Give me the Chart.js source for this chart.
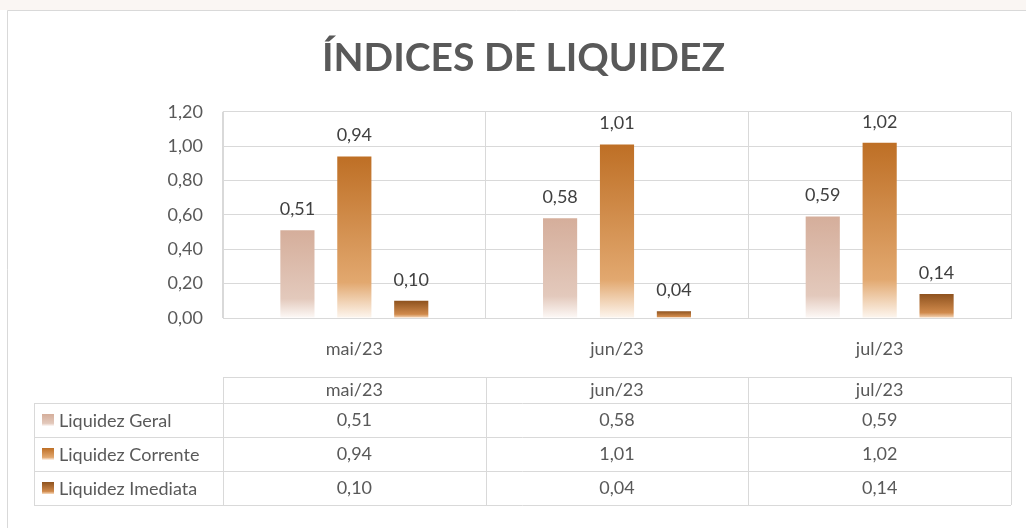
<!DOCTYPE html>
<html>
<head>
<meta charset="utf-8">
<script src="https://cdn.jsdelivr.net/npm/chart.js@4"></script>
<style>
  html, body { margin: 0; padding: 0; background: #fff; }
  canvas { display: block; }
</style>
</head>
<body>
<canvas id="myChart" width="1026" height="528"></canvas>
<script>
const categories = ['mai/23', 'jun/23', 'jul/23'];
const seriesNames = ['Liquidez Geral', 'Liquidez Corrente', 'Liquidez Imediata'];
const liquidezGeral = [0.51, 0.58, 0.59];
const liquidezCorrente = [0.94, 1.01, 1.02];
const liquidezImediata = [0.10, 0.04, 0.14];
const yMin = 0;
const yMax = 1.2;
const yStep = 0.2;

const FONT = 'Lato, "Open Sans", sans-serif';
const TEXT = '#595959';
const GRID = '#d9d9d9';

// cores do degradê (topo -> meio -> base)
const gradStops = [
    ['#d5ae9b', '#e3c9bc', '#fdf9f7'],
    ['#be6f25', '#e2a86f', '#fdf6ef'],
    ['#8e521e', '#d08a4c', '#f8dcc0']
];

const fmt = v => v.toFixed(2).replace('.', ',');

function makeGradient(c, top, bottom, stops) {
    const g = c.createLinearGradient(0, top, 0, bottom);
    g.addColorStop(0, stops[0]);
    g.addColorStop(0.78, stops[1]);
    g.addColorStop(1, stops[2]);
    return g;
}

function barColor(i) {
    return function (context) {
        const chart = context.chart;
        if (!chart.chartArea || context.raw === undefined) return gradStops[i][0];
        const y = chart.scales.y;
        return makeGradient(chart.ctx, y.getPixelForValue(context.raw), y.getPixelForValue(0), gradStops[i]);
    };
}

// moldura da área do gráfico
const framePlugin = {
    id: 'frame',
    beforeDraw(chart) {
        const c = chart.ctx;
        c.save();
        c.fillStyle = '#faf6f3';
        c.fillRect(0, 0, chart.width, 10);
        c.fillStyle = '#ffffff';
        c.fillRect(7, 10, chart.width - 7, chart.height - 10);
        c.strokeStyle = GRID;
        c.lineWidth = 1;
        c.beginPath();
        c.moveTo(7.5, chart.height);
        c.lineTo(7.5, 10.5);
        c.lineTo(chart.width, 10.5);
        c.stroke();
        c.restore();
    }
};

// rótulos de dados acima das barras
const valueLabels = {
    id: 'valueLabels',
    afterDatasetsDraw(chart) {
        const c = chart.ctx;
        c.save();
        c.font = '18px ' + FONT;
        c.fillStyle = '#404040';
        c.textAlign = 'center';
        c.textBaseline = 'bottom';
        chart.data.datasets.forEach((ds, i) => {
            chart.getDatasetMeta(i).data.forEach((bar, j) => {
                c.fillText(fmt(ds.data[j]), bar.x, bar.y - 12);
            });
        });
        c.restore();
    }
};

// tabela de dados abaixo do eixo
const dataTable = {
    id: 'dataTable',
    afterDraw(chart) {
        const c = chart.ctx;
        const x = chart.scales.x;
        const left = chart.chartArea.left;
        const right = chart.chartArea.right;
        const legendLeft = 34;
        const headTop = 377;
        const rowTops = [403, 437, 471, 505];
        const colW = (right - left) / categories.length;

        c.save();
        c.strokeStyle = GRID;
        c.lineWidth = 1;
        c.beginPath();
        c.moveTo(left, headTop + 0.5);
        c.lineTo(right, headTop + 0.5);
        rowTops.forEach(t => {
            c.moveTo(legendLeft, t + 0.5);
            c.lineTo(right, t + 0.5);
        });
        c.moveTo(legendLeft + 0.5, rowTops[0]);
        c.lineTo(legendLeft + 0.5, rowTops[3]);
        for (let k = 0; k <= categories.length; k++) {
            const px = Math.round(left + k * colW) + 0.5;
            c.moveTo(px, headTop);
            c.lineTo(px, rowTops[3]);
        }
        c.stroke();

        c.font = '18px ' + FONT;
        c.fillStyle = TEXT;
        c.textBaseline = 'middle';
        c.textAlign = 'center';
        categories.forEach((cat, j) => {
            c.fillText(cat, x.getPixelForValue(j), (headTop + rowTops[0]) / 2);
        });
        chart.data.datasets.forEach((ds, i) => {
            const cy = (rowTops[i] + rowTops[i + 1]) / 2;
            c.textAlign = 'center';
            ds.data.forEach((v, j) => {
                c.fillText(fmt(v), x.getPixelForValue(j), cy);
            });
            // chave da legenda
            c.fillStyle = makeGradient(c, cy - 6, cy + 6, gradStops[i]);
            c.fillRect(42, cy - 6, 12, 12);
            c.fillStyle = TEXT;
            c.textAlign = 'left';
            c.fillText(ds.label, 59, cy + 1);
        });
        c.restore();
    }
};

const ctx = document.getElementById('myChart');

new Chart(ctx, {
    type: 'bar',
    data: {
        labels: categories,
        datasets: [
            { label: seriesNames[0], data: liquidezGeral, backgroundColor: barColor(0) },
            { label: seriesNames[1], data: liquidezCorrente, backgroundColor: barColor(1) },
            { label: seriesNames[2], data: liquidezImediata, backgroundColor: barColor(2) }
        ]
    },
    options: {
        responsive: false,
        animation: false,
        categoryPercentage: 0.65,
        barPercentage: 0.6,
        layout: { padding: { left: 36, right: 15, top: 0, bottom: 0 } },
        plugins: {
            legend: { display: false },
            tooltip: { enabled: false },
            title: {
                display: true,
                text: 'ÍNDICES DE LIQUIDEZ',
                color: TEXT,
                font: { family: FONT, size: 39, weight: 'bold' },
                padding: { top: 35, bottom: 30 }
            }
        },
        scales: {
            x: {
                grid: { color: GRID, drawTicks: false },
                border: { color: GRID },
                ticks: { color: TEXT, font: { family: FONT, size: 18 }, padding: 20 },
                afterFit(scale) { scale.height = 210; }
            },
            y: {
                min: yMin,
                max: yMax,
                grid: { color: GRID, drawTicks: false },
                border: { color: GRID },
                ticks: {
                    stepSize: yStep,
                    color: TEXT,
                    font: { family: FONT, size: 18 },
                    padding: 20,
                    callback: v => fmt(v)
                },
                afterFit(scale) { scale.width = 187; }
            }
        }
    },
    plugins: [framePlugin, valueLabels, dataTable]
});
</script>
</body>
</html>
